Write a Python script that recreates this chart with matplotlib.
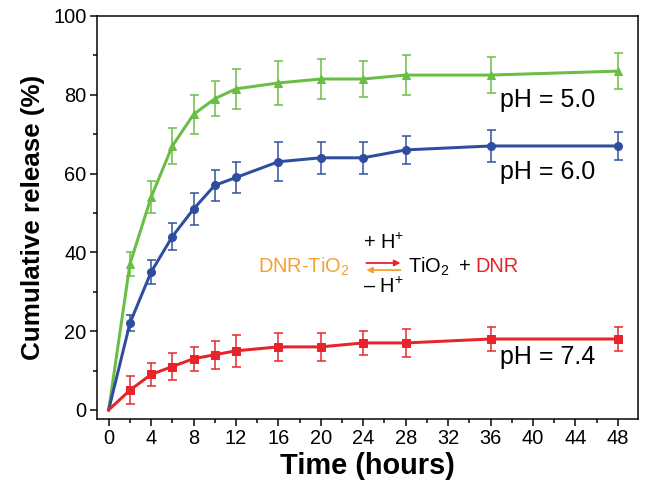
import matplotlib
matplotlib.use("Agg")
import matplotlib.pyplot as plt
from matplotlib.ticker import MultipleLocator

plt.rcParams['font.family'] = ['Liberation Sans', 'DejaVu Sans']
plt.rcParams['mathtext.fontset'] = 'custom'
plt.rcParams['mathtext.rm'] = 'Liberation Sans'
plt.rcParams['mathtext.it'] = 'Liberation Sans:italic'
plt.rcParams['mathtext.bf'] = 'Liberation Sans:bold'

time_h = [0, 2, 4, 6, 8, 10, 12, 16, 20, 24, 28, 36, 48]
ph50 = [0, 37, 54, 67, 75, 79, 81.5, 83, 84, 84, 85, 85, 86]
ph50_err = [0, 3, 4, 4.5, 5, 4.5, 5, 5.5, 5, 4.5, 5, 4.5, 4.5]
ph60 = [0, 22, 35, 44, 51, 57, 59, 63, 64, 64, 66, 67, 67]
ph60_err = [0, 2, 3, 3.5, 4, 4, 4, 5, 4, 4, 3.5, 4, 3.5]
ph74 = [0, 5, 9, 11, 13, 14, 15, 16, 16, 17, 17, 18, 18]
ph74_err = [0, 3.5, 3, 3.5, 3, 3.5, 4, 3.5, 3.5, 3, 3.5, 3, 3]
x_ticks = list(range(0, 49, 4))
y_ticks = [0, 20, 40, 60, 80, 100]

green = '#6abd45'
blue = '#2e4d9f'
red = '#e8232a'
orange = '#f4a033'

fig = plt.figure(figsize=(9, 7), dpi=72)
ax = fig.add_axes([0.1497, 0.1687, 0.8349, 0.7996])

series = [
    (ph50, ph50_err, green, '^'),
    (ph60, ph60_err, blue, 'o'),
    (ph74, ph74_err, red, 's'),
]
for vals, errs, c, m in series:
    ax.errorbar(time_h[1:], vals[1:], yerr=errs[1:], fmt='none', ecolor=c,
                elinewidth=1.5, capsize=4.5, capthick=1.5, zorder=2)
    ax.plot(time_h, vals, color=c, lw=3, zorder=3)
    ax.plot(time_h[1:], vals[1:], linestyle='none', marker=m, color=c,
            markersize=8, zorder=4)

ax.set_xlim(-1.1, 49.9)
ax.set_ylim(-2.3, 100)
ax.set_xticks(x_ticks)
ax.set_yticks(y_ticks)
ax.xaxis.set_minor_locator(MultipleLocator(2))
ax.yaxis.set_minor_locator(MultipleLocator(10))
ax.tick_params(which='major', direction='out', length=7, width=1.5,
               labelsize=20, top=False, right=False)
ax.tick_params(which='minor', direction='out', length=4, width=1.5,
               top=False, right=False)
for s in ax.spines.values():
    s.set_linewidth(1.5)

ax.set_xlabel('Time (hours)', fontsize=29, fontweight='bold', labelpad=4)
ax.set_ylabel('Cumulative release (%)', fontsize=26, fontweight='bold', labelpad=8)

ax.text(36.9, 78.7, 'pH = 5.0', fontsize=25, ha='left', va='center')
ax.text(36.9, 60.5, 'pH = 6.0', fontsize=25, ha='left', va='center')
ax.text(36.9, 13.5, 'pH = 7.4', fontsize=25, ha='left', va='center')

ax.text(14.1, 36.3, 'DNR-TiO$_2$', fontsize=20, color=orange, ha='left', va='center')
ax.annotate('', xy=(27.7, 37.3), xytext=(24.1, 37.3),
            arrowprops=dict(arrowstyle='-|>', color=red, lw=1.8, mutation_scale=12))
ax.annotate('', xy=(24.1, 35.5), xytext=(27.7, 35.5),
            arrowprops=dict(arrowstyle='-|>', color=orange, lw=1.8, mutation_scale=12))
ax.text(25.9, 42.4, '+ H$^{+}$', fontsize=20, ha='center', va='center')
ax.text(25.9, 31.2, '\u2013 H$^{+}$', fontsize=20, ha='center', va='center')
ax.text(28.2, 36.3, 'TiO$_2$', fontsize=20, ha='left', va='center')
ax.text(33.0, 36.3, '+', fontsize=20, ha='left', va='center')
ax.text(34.6, 36.3, 'DNR', fontsize=20, color=red, ha='left', va='center')

fig.savefig('out.png', dpi=72)
